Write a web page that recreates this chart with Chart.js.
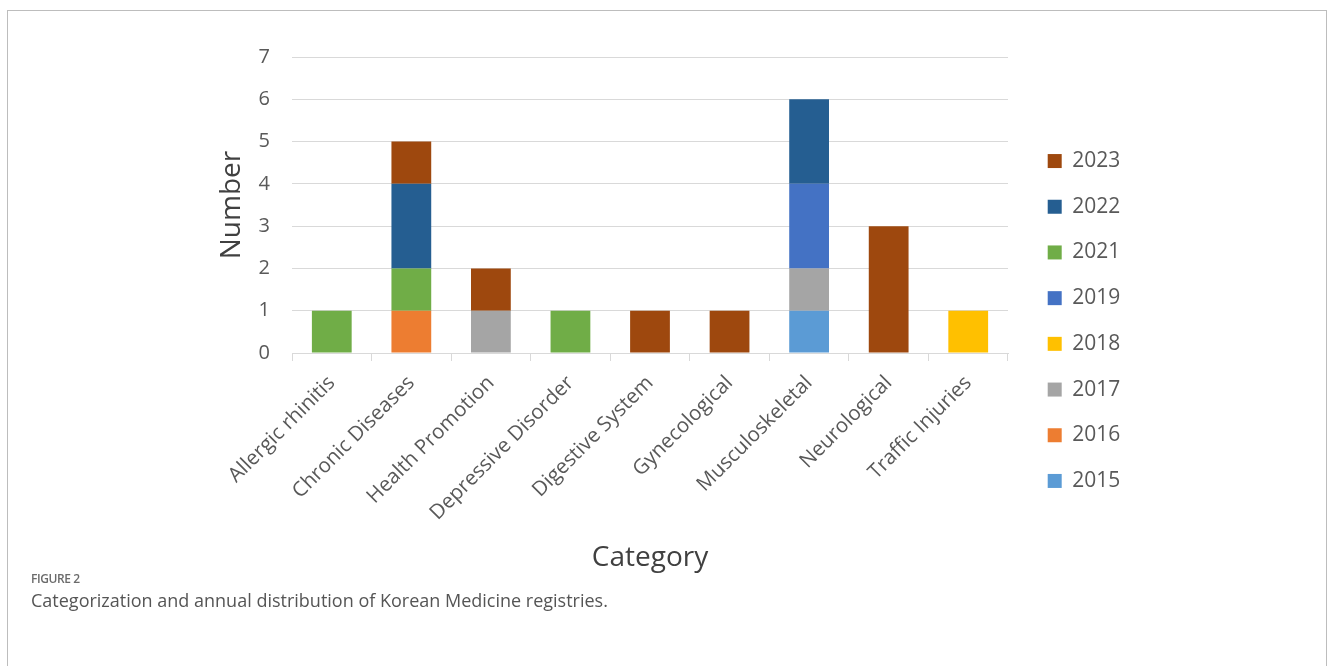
<!DOCTYPE html>
<html>
<head>
<meta charset="utf-8">
<script src="https://cdn.jsdelivr.net/npm/chart.js@4/dist/chart.umd.min.js"></script>
<style>
  html, body { margin:0; padding:0; background:#fff; width:1330px; height:666px; overflow:hidden; }
  #frame { position:absolute; left:7px; top:10px; width:1320px; height:700px; border:1.5px solid #bdbdbd; box-sizing:border-box; }
  #wrap { position:absolute; left:8px; top:11px; width:1314px; height:620px; }
  #fig { position:absolute; left:31px; top:570px; font-family:"Open Sans", sans-serif; font-size:12px; letter-spacing:-0.4px; color:#6b6b6b; font-weight:600; }
  #cap { position:absolute; left:31px; top:588px; font-family:"Open Sans", sans-serif; font-size:18px; color:#555; }
</style>
</head>
<body>
<div id="frame"></div>
<div id="wrap"><canvas id="c" width="1314" height="620"></canvas></div>
<div id="fig">FIGURE 2</div>
<div id="cap">Categorization and annual distribution of Korean Medicine registries.</div>
<script>
const categories = ["Allergic rhinitis","Chronic Diseases","Health Promotion","Depressive Disorder","Digestive System","Gynecological","Musculoskeletal","Neurological","Traffic Injuries"];
const years = ["2015","2016","2017","2018","2019","2021","2022","2023"];
const v2015 = [0,0,0,0,0,0,1,0,0];
const v2016 = [0,1,0,0,0,0,0,0,0];
const v2017 = [0,0,1,0,0,0,1,0,0];
const v2018 = [0,0,0,0,0,0,0,0,1];
const v2019 = [0,0,0,0,0,0,2,0,0];
const v2021 = [1,1,0,1,0,0,0,0,0];
const v2022 = [0,2,0,0,0,0,2,0,0];
const v2023 = [0,1,1,0,1,1,0,3,0];
const seriesValues = [v2015, v2016, v2017, v2018, v2019, v2021, v2022, v2023];
const colors = ["#5B9BD5","#ED7D31","#A5A5A5","#FFC000","#4472C4","#70AD47","#255E91","#9E480E"];
const yTicks = [0,1,2,3,4,5,6,7];

const FONT = "'Open Sans', sans-serif";
const legendWidthPlugin = {
  id: 'legendWidth',
  beforeLayout(chart) {
    const lg = chart.legend;
    if (lg && !lg._wrapped) {
      const fit = lg.fit;
      lg.fit = function() { fit.call(this); this.width = 299; };
      lg._wrapped = true;
    }
  }
};

new Chart(document.getElementById('c'), {
  type: 'bar',
  data: {
    labels: categories,
    datasets: years.map((y, i) => ({
      label: y,
      data: seriesValues[i],
      backgroundColor: colors[i],
      borderWidth: 0,
      barPercentage: 0.5,
      categoryPercentage: 1.0
    }))
  },
  options: {
    responsive: false,
    animation: false,
    devicePixelRatio: 1,
    layout: { padding: { left: 203, top: 46, right: 0, bottom: 46 } },
    plugins: {
      tooltip: { enabled: false },
      legend: {
        position: 'right',
        reverse: true,
        labels: {
          boxWidth: 14, boxHeight: 14, padding: 24.7,
          color: '#595959',
          font: { family: FONT, size: 21 }
        }
      }
    },
    scales: {
      x: {
        stacked: true,
        grid: { display: true, drawOnChartArea: false, drawTicks: true, tickLength: 8, color: '#d9d9d9', offset: true },
        border: { display: true, color: '#d9d9d9', width: 1 },
        ticks: { color: '#595959', font: { family: FONT, size: 20.5 }, minRotation: 45, maxRotation: 45, autoSkip: false, padding: 10 },
        title: { display: true, text: 'Category', color: '#404040', font: { family: FONT, size: 28 }, padding: { top: 4, bottom: 10 } },
        afterFit: s => { s.height = 232; }
      },
      y: {
        stacked: true,
        min: 0, max: 7,
        afterBuildTicks: s => { s.ticks = yTicks.map(v => ({ value: v })); },
        grid: { color: '#d9d9d9', drawTicks: false },
        border: { display: false },
        ticks: { color: '#595959', font: { family: FONT, size: 20 }, padding: 22 },
        title: { display: true, text: 'Number', color: '#404040', font: { family: FONT, size: 28 }, padding: { top: 4, bottom: 4 } },
        afterFit: s => { s.width = 81; }
      },
      y2: {
        position: 'right',
        display: true,
        grid: { display: false },
        border: { display: false },
        ticks: { display: false },
        afterFit: s => { s.width = 15; }
      }
    }
  },
  plugins: [legendWidthPlugin]
});
</script>
</body>
</html>
